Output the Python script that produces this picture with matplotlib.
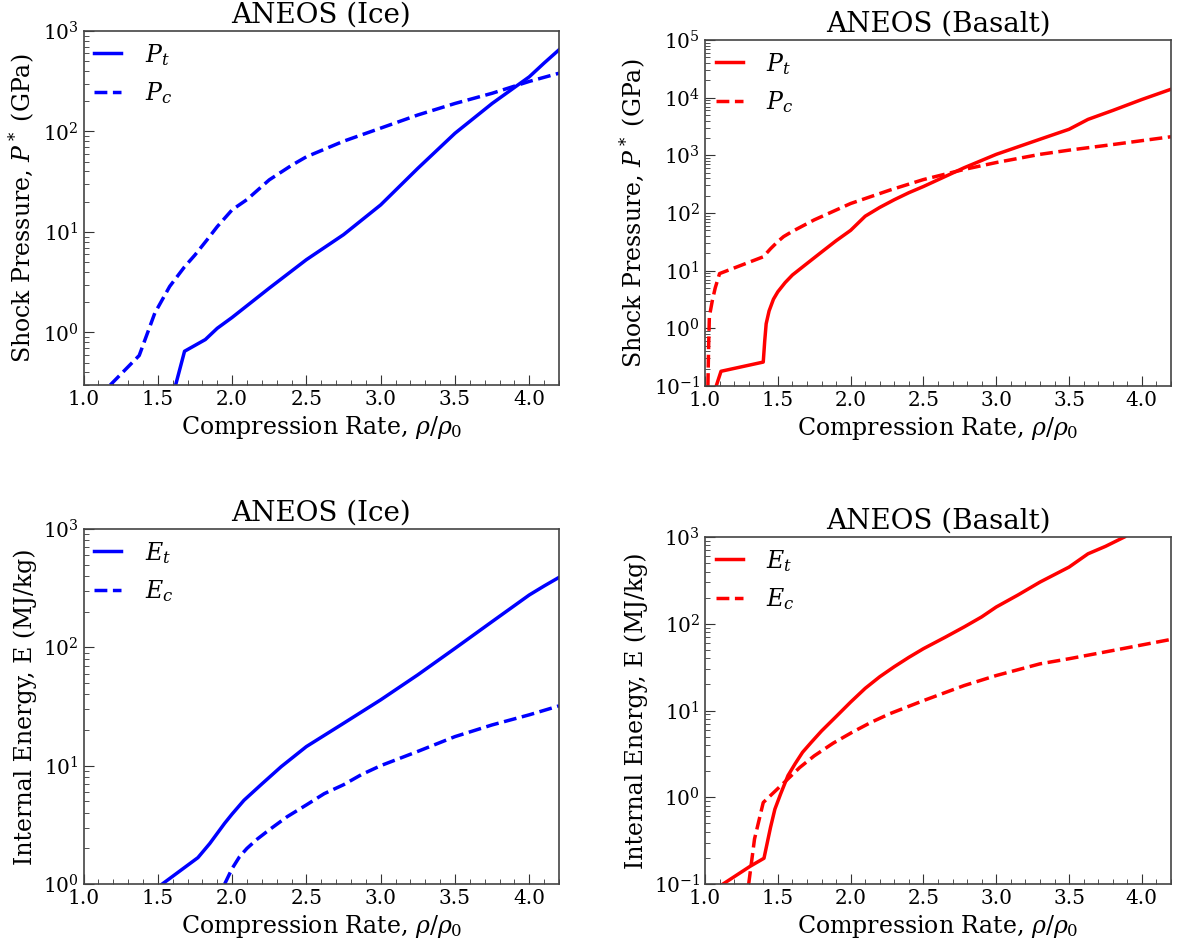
import matplotlib
matplotlib.use('Agg')
import matplotlib.pyplot as plt
from matplotlib.ticker import AutoMinorLocator

plt.rcParams.update({
    "font.family": "serif",
    "font.serif": ["DejaVu Serif"],
    "mathtext.fontset": "dejavuserif",
    "xtick.direction": "in",
    "ytick.direction": "in",
    "xtick.labelsize": 14.5,
    "ytick.labelsize": 14.5,
    "axes.labelsize": 17,
    "axes.titlesize": 20,
    "legend.fontsize": 17,
})

# ice, shock pressure (GPa)
ice_pt_x = [1.62, 1.68, 1.82, 1.9, 2.0, 2.25, 2.5, 2.75, 3.0, 3.25, 3.5, 3.75, 4.0, 4.1, 4.2]
ice_pt_y = [0.3, 0.65, 0.85, 1.1, 1.41, 2.76, 5.3, 9.4, 18.6, 43, 96, 190, 350, 480, 650]
ice_pc_x = [1.18, 1.375, 1.48, 1.58, 1.68, 1.75, 1.83, 1.9, 2.0, 2.1, 2.25, 2.4, 2.5, 2.75,
            3.0, 3.25, 3.5, 3.75, 4.0, 4.2]
ice_pc_y = [0.3, 0.59, 1.56, 2.87, 4.5, 5.9, 8.3, 11.3, 16.6, 21, 33, 46, 56, 80,
            108, 146, 190, 240, 315, 380]

# basalt, shock pressure (GPa)
bas_pt_x = [1.077, 1.11, 1.40, 1.41, 1.42, 1.44, 1.47, 1.5, 1.55, 1.6, 1.7, 1.8, 1.9, 2.0,
            2.1, 2.2, 2.3, 2.4, 2.5, 2.78, 3.0, 3.3, 3.5, 3.63, 3.8, 4.0, 4.2]
bas_pt_y = [0.1, 0.18, 0.26, 0.6, 1.2, 2.0, 3.2, 4.3, 6.2, 8.4, 13.3, 21, 33, 50,
            88, 125, 170, 225, 288, 610, 1040, 1900, 2830, 4200, 6000, 9300, 14000]
bas_pc_x = [1.02, 1.025, 1.03, 1.05, 1.07, 1.10, 1.40, 1.45, 1.5, 1.54, 1.6, 1.75, 2.0, 2.27,
            2.5, 2.78, 3.0, 3.3, 3.5, 3.81, 4.2]
bas_pc_y = [0.1, 0.5, 1.6, 3.0, 5.0, 8.9, 17.4, 24, 32, 39, 48, 76, 146, 250,
            380, 570, 750, 1040, 1230, 1550, 2100]

# ice, internal energy (MJ/kg)
ice_et_x = [1.53, 1.77, 1.85, 1.95, 2.0, 2.08, 2.2, 2.33, 2.5, 2.75, 3.0, 3.25, 3.5, 3.75,
            4.0, 4.1, 4.2]
ice_et_y = [1.0, 1.67, 2.2, 3.26, 3.9, 5.1, 7.0, 9.8, 14.5, 22.8, 36, 58.6, 98, 165,
            277, 330, 390]
ice_ec_x = [1.95, 2.0, 2.05, 2.10, 2.17, 2.25, 2.37, 2.5, 2.62, 2.75, 2.87, 3.0, 3.25, 3.5,
            3.75, 4.0, 4.2]
ice_ec_y = [1.0, 1.35, 1.7, 2.0, 2.4, 2.87, 3.7, 4.66, 5.8, 6.9, 8.4, 10.0, 13.2, 17.6,
            22.1, 26.9, 32]

# basalt, internal energy (MJ/kg)
bas_et_x = [1.124, 1.31, 1.405, 1.45, 1.48, 1.52, 1.57, 1.62, 1.67, 1.73, 1.80, 1.9, 2.0,
            2.1, 2.2, 2.3, 2.4, 2.5, 2.65, 2.78, 2.9, 3.0, 3.15, 3.3, 3.5, 3.63, 3.75, 3.88]
bas_et_y = [0.1, 0.16, 0.198, 0.45, 0.73, 1.1, 1.78, 2.45, 3.3, 4.3, 5.8, 8.5, 12.5,
            18, 24.5, 32, 41, 51.6, 70, 92, 120, 156, 215, 302, 450, 640, 780, 1000]
bas_ec_x = [1.30, 1.34, 1.40, 1.57, 1.65, 1.75, 1.88, 2.01, 2.14, 2.27, 2.5, 2.78, 3.0, 3.3,
            3.5, 3.81, 4.2]
bas_ec_y = [0.1, 0.33, 0.87, 1.63, 2.2, 3.0, 4.2, 5.6, 7.3, 9.2, 13, 19.4, 25.3, 34.5,
            39.5, 49.5, 66]

W, H = 1177, 947
fig = plt.figure(figsize=(W / 100, H / 100), dpi=100)


def px_axes(left, top, right, bottom):
    return fig.add_axes([left / W, 1 - bottom / H, (right - left) / W, (bottom - top) / H])


def style(ax, title, ylabel, ylim):
    ax.set_yscale('log')
    ax.set_xlim(1.0, 4.2)
    ax.set_ylim(*ylim)
    ax.set_title(title)
    ax.set_xlabel(r'Compression Rate, $\rho/\rho_0$')
    ax.set_ylabel(ylabel)
    ax.xaxis.set_minor_locator(AutoMinorLocator(5))
    ax.tick_params(which='both', top=False, right=False, color='#333333')
    ax.tick_params(which='major', length=7)
    ax.tick_params(which='minor', length=3.5)
    for s in ax.spines.values():
        s.set_color('#444444')
        s.set_linewidth(1.2)
    ax.legend(loc='upper left', frameon=False, handlelength=1.15, handletextpad=1.0,
              labelspacing=0.55, borderaxespad=0.05)


lw = 2.5
p_label = r'Shock Pressure, $P^*$ (GPa)'
e_label = 'Internal Energy, E (MJ/kg)'

ax1 = px_axes(83.5, 31, 559, 385)
ax1.plot(ice_pt_x, ice_pt_y, color='b', lw=lw, label=r'$P_t$')
ax1.plot(ice_pc_x, ice_pc_y, color='b', lw=lw, ls='--', label=r'$P_c$')
style(ax1, 'ANEOS (Ice)', p_label, (0.3, 1e3))

ax2 = px_axes(705, 40, 1171, 386)
ax2.plot(bas_pt_x, bas_pt_y, color='r', lw=lw, label=r'$P_t$')
ax2.plot(bas_pc_x, bas_pc_y, color='r', lw=lw, ls='--', label=r'$P_c$')
style(ax2, 'ANEOS (Basalt)', p_label, (0.1, 1e5))

ax3 = px_axes(83.5, 529, 559, 884)
ax3.plot(ice_et_x, ice_et_y, color='b', lw=lw, label=r'$E_t$')
ax3.plot(ice_ec_x, ice_ec_y, color='b', lw=lw, ls='--', label=r'$E_c$')
style(ax3, 'ANEOS (Ice)', e_label, (1.0, 1e3))

ax4 = px_axes(705, 537, 1171, 884)
ax4.plot(bas_et_x, bas_et_y, color='r', lw=lw, label=r'$E_t$')
ax4.plot(bas_ec_x, bas_ec_y, color='r', lw=lw, ls='--', label=r'$E_c$')
style(ax4, 'ANEOS (Basalt)', e_label, (0.1, 1e3))

fig.savefig('out.png', dpi=100)
